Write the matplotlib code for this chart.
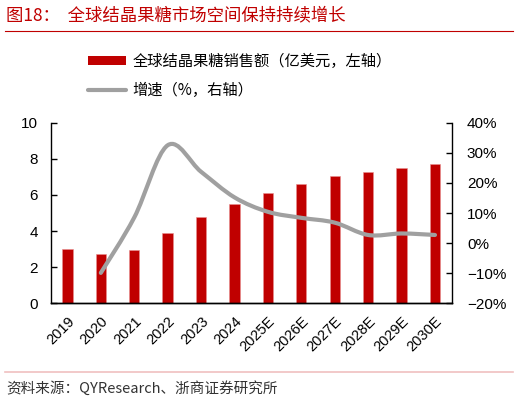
import matplotlib
matplotlib.use('Agg')
import matplotlib.pyplot as plt
import matplotlib.ticker as mticker
from matplotlib.path import Path
from matplotlib.patches import PathPatch, Patch
from matplotlib.lines import Line2D

plt.rcParams['font.family'] = ['Noto Sans CJK SC', 'DejaVu Sans']
plt.rcParams['axes.unicode_minus'] = True

# data
years = ['2019', '2020', '2021', '2022', '2023', '2024',
         '2025E', '2026E', '2027E', '2028E', '2029E', '2030E']
sales = [3.0, 2.71, 2.93, 3.87, 4.78, 5.52, 6.09, 6.6, 7.05, 7.25, 7.47, 7.69]
growth = [-9.9, 8.5, 32.5, 23.7, 15.2, 10.4, 8.4, 6.8, 2.7, 3.2, 2.7]  # from 2020

red = '#C00000'
gray = '#A0A0A0'

fig = plt.figure(figsize=(5.2, 4.03), dpi=100)
ax1 = fig.add_axes([0.0975, 0.2474, 0.8686 - 0.0975, 0.6955 - 0.2474])
ax2 = ax1.twinx()

x = list(range(len(years)))
ax1.bar(x, sales, width=0.31, color=red, edgecolor='#E89090', linewidth=0.4, zorder=2)
ax1.set_xlim(-0.5, len(years) - 0.5)
ax1.set_ylim(0, 10)
ax1.set_yticks([0, 2, 4, 6, 8, 10])
ax1.set_xticks(x)
ax1.set_xticklabels(years, rotation=45, ha='right', rotation_mode='anchor')

# smoothed growth line (Excel-style bezier through the points)
gx = x[1:]
pts = list(zip(gx, growth))
verts = [pts[0]]
codes = [Path.MOVETO]
n = len(pts)
for i in range(n - 1):
    p0 = pts[i - 1] if i > 0 else pts[i]
    p1 = pts[i]
    p2 = pts[i + 1]
    p3 = pts[i + 2] if i + 2 < n else pts[i + 1]
    c1 = (p1[0] + (p2[0] - p0[0]) / 6, p1[1] + (p2[1] - p0[1]) / 6)
    c2 = (p2[0] - (p3[0] - p1[0]) / 6, p2[1] - (p3[1] - p1[1]) / 6)
    verts += [c1, c2, p2]
    codes += [Path.CURVE4] * 3
ax2.add_patch(PathPatch(Path(verts, codes), facecolor='none', edgecolor=gray,
                        linewidth=3, capstyle='round', zorder=3))
ax2.set_ylim(-20, 40)
ax2.set_yticks(range(-20, 41, 10))
ax2.yaxis.set_major_formatter(mticker.FuncFormatter(lambda v, pos: '{:d}%'.format(int(v)).replace('-', '\u2212')))

for ax in (ax1, ax2):
    ax.spines['top'].set_visible(False)
    for s in ('left', 'right', 'bottom'):
        ax.spines[s].set_linewidth(1.0)
        ax.spines[s].set_color('black')
    ax.tick_params(direction='in', length=4, width=1, labelsize=11, pad=9)
    for lab in ax.get_yticklabels() + ax.get_xticklabels():
        lab.set_family(['Liberation Sans', 'DejaVu Sans'])
ax2.spines['left'].set_visible(False)
ax1.spines['right'].set_visible(False)
ax2.tick_params(axis='y', pad=11)
ax1.tick_params(axis='x', pad=8, labelsize=10.5)

# legend
handles = [Patch(facecolor=red, edgecolor='none'),
           Line2D([0], [0], color=gray, lw=3, solid_capstyle='round')]
labels = ['全球结晶果糖销售额（亿美元，左轴）', '增速（%，右轴）']
fig.legend(handles, labels, loc='upper left', bbox_to_anchor=(88 / 520, 1 - 53 / 403),
           frameon=False, fontsize=11, handlelength=2.5, handleheight=0.5,
           handletextpad=0.4, labelspacing=0.75, borderpad=0, borderaxespad=0)

# title and source
fig.text(6 / 520, 1 - 15 / 403, '图18：  全球结晶果糖市场空间保持持续增长', color=red,
         fontsize=12.5, va='center', ha='left')
fig.add_artist(Line2D([5 / 520, 513 / 520], [1 - 31 / 403] * 2, color=red, lw=0.8))
fig.add_artist(Line2D([5 / 520, 513 / 520], [1 - 372 / 403] * 2, color='#F0C0C0', lw=1.2))
fig.text(6 / 520, 1 - 388 / 403, '资料来源：QYResearch、浙商证券研究所', color='#333333',
         fontsize=10.5, va='center', ha='left')

fig.savefig('out.png', dpi=100)
plt.close(fig)
